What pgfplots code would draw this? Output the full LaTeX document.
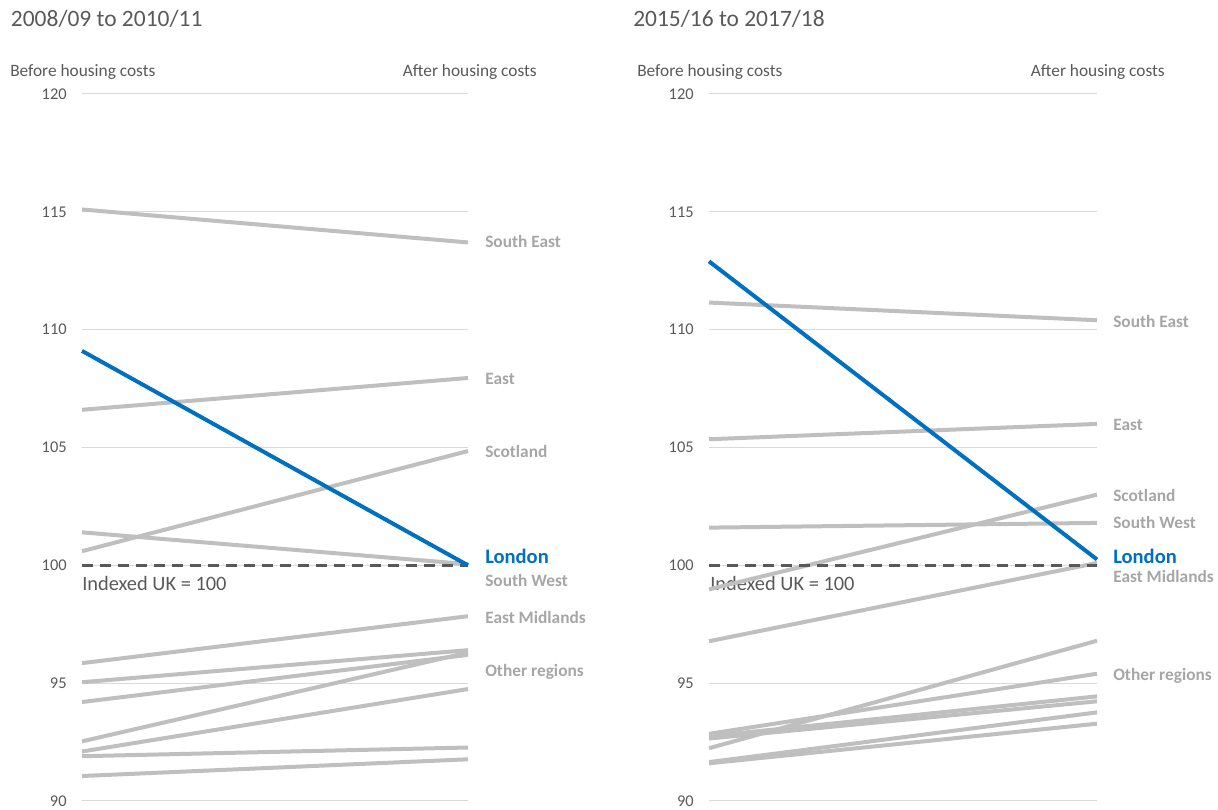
\documentclass[border=0pt]{standalone}
\usepackage{fontspec}
\setmainfont{Carlito}
\usepackage{pgfplots}
\pgfplotsset{compat=1.18}
\definecolor{lg}{HTML}{BFBFBF}
\definecolor{bl}{HTML}{0070C0}
\definecolor{dg}{HTML}{595959}
\definecolor{gridc}{HTML}{D9D9D9}
\definecolor{lab}{HTML}{A6A6A6}
\pgfplotsset{
  slope/.style={
    scale only axis, height=530.25pt,
    xmin=0, xmax=1, ymin=90, ymax=120,
    axis line style={draw=none},
    xtick=\empty, ytick={90,95,...,120},
    ymajorgrids, major grid style={gridc, line width=0.75pt},
    major tick length=0pt,
    yticklabel style={font=\fontsize{12.3}{14}\selectfont, text=dg, xshift=-8pt},
    /pgf/number format/assume math mode=true,
    clip=false, anchor=south west,
  },
}
\tikzset{
  gl/.style={lg, line width=3pt, line cap=butt},
  bline/.style={bl, line width=3pt, line cap=butt},
  ukline/.style={dg, line width=2.25pt, dash pattern=on 8.25pt off 5.25pt},
  lbl/.style={anchor=west, inner sep=0pt, text=lab, font=\fontsize{13}{15}\selectfont\bfseries},
  lon/.style={anchor=west, inner sep=0pt, text=bl, font=\fontsize{15.4}{17}\selectfont\bfseries},
}
\begin{document}
\begin{tikzpicture}
\useasboundingbox (0,0) rectangle (913.5pt,607.5pt);
% headers
\node[anchor=west, inner sep=0pt, text=dg, font=\fontsize{17.6}{20}\selectfont] at (8pt,593pt) {2008/09 to 2010/11};
\node[anchor=west, inner sep=0pt, text=dg, font=\fontsize{17.6}{20}\selectfont] at (474.75pt,593pt) {2015/16 to 2017/18};
\node[anchor=west, inner sep=0pt, text=dg, font=\fontsize{13}{15}\selectfont] at (7.5pt,553.5pt) {Before housing costs};
\node[anchor=east, inner sep=0pt, text=dg, font=\fontsize{13}{15}\selectfont] at (402.75pt,553.5pt) {After housing costs};
\node[anchor=west, inner sep=0pt, text=dg, font=\fontsize{13}{15}\selectfont] at (477.75pt,553.5pt) {Before housing costs};
\node[anchor=east, inner sep=0pt, text=dg, font=\fontsize{13}{15}\selectfont] at (873.75pt,553.5pt) {After housing costs};
\node[anchor=west, inner sep=0pt, text=dg, font=\fontsize{15.3}{17}\selectfont] at (61.5pt,170.25pt) {Indexed UK = 100};
\node[anchor=west, inner sep=0pt, text=dg, font=\fontsize{15.3}{17}\selectfont] at (532.5pt,170.25pt) {Indexed UK = 100};

% left panel
\begin{axis}[slope, width=289.5pt, at={(61.5pt,6.75pt)}]
\addplot[gl] coordinates {(0,91.06) (1,91.77)};
\addplot[gl] coordinates {(0,91.9) (1,92.27)};
\addplot[gl] coordinates {(0,92.1) (1,94.75)};
\addplot[gl] coordinates {(0,92.53) (1,96.3)};
\addplot[gl] coordinates {(0,94.2) (1,96.2)};
\addplot[gl] coordinates {(0,95.04) (1,96.4)};
\addplot[gl] coordinates {(0,95.85) (1,97.84)};
\addplot[gl] coordinates {(0,101.4) (1,100.05)};
\addplot[gl] coordinates {(0,100.6) (1,104.85)};
\addplot[gl] coordinates {(0,106.6) (1,107.95)};
\addplot[gl] coordinates {(0,115.1) (1,113.7)};
\addplot[ukline] coordinates {(0,100) (1,100)};
\addplot[bline] coordinates {(0,109.1) (1,100.0)};
\node[lbl] at (axis cs:1,113.74) [xshift=12.75pt] {South East};
\node[lbl] at (axis cs:1,107.91) [xshift=12.75pt] {East};
\node[lbl] at (axis cs:1,104.81) [xshift=12.75pt] {Scotland};
\node[lon] at (axis cs:1,100.38) [xshift=12.75pt] {London};
\node[lbl] at (axis cs:1,99.36) [xshift=12.75pt] {South West};
\node[lbl] at (axis cs:1,97.79) [xshift=12.75pt] {East Midlands};
\node[lbl] at (axis cs:1,95.49) [xshift=12.75pt] {Other regions};
\end{axis}

% right panel
\begin{axis}[slope, width=291pt, at={(531.75pt,6.75pt)}]
\addplot[gl] coordinates {(0,91.6) (1,93.28)};
\addplot[gl] coordinates {(0,91.65) (1,93.76)};
\addplot[gl] coordinates {(0,92.65) (1,94.23)};
\addplot[gl] coordinates {(0,92.75) (1,94.44)};
\addplot[gl] coordinates {(0,92.85) (1,95.4)};
\addplot[gl] coordinates {(0,92.24) (1,96.8)};
\addplot[gl] coordinates {(0,96.78) (1,100.1)};
\addplot[gl] coordinates {(0,98.98) (1,103.0)};
\addplot[gl] coordinates {(0,101.6) (1,101.8)};
\addplot[gl] coordinates {(0,105.35) (1,106.0)};
\addplot[gl] coordinates {(0,111.15) (1,110.4)};
\addplot[ukline] coordinates {(0,100) (1,100)};
\addplot[bline] coordinates {(0,112.9) (1,100.25)};
\node[lbl] at (axis cs:1,110.34) [xshift=12pt] {South East};
\node[lbl] at (axis cs:1,105.96) [xshift=12pt] {East};
\node[lbl] at (axis cs:1,102.98) [xshift=12pt] {Scotland};
\node[lbl] at (axis cs:1,101.83) [xshift=12pt] {South West};
\node[lon] at (axis cs:1,100.38) [xshift=12pt] {London};
\node[lbl] at (axis cs:1,99.53) [xshift=12pt] {East Midlands};
\node[lbl] at (axis cs:1,95.32) [xshift=12pt] {Other regions};
\end{axis}
\end{tikzpicture}
\end{document}
